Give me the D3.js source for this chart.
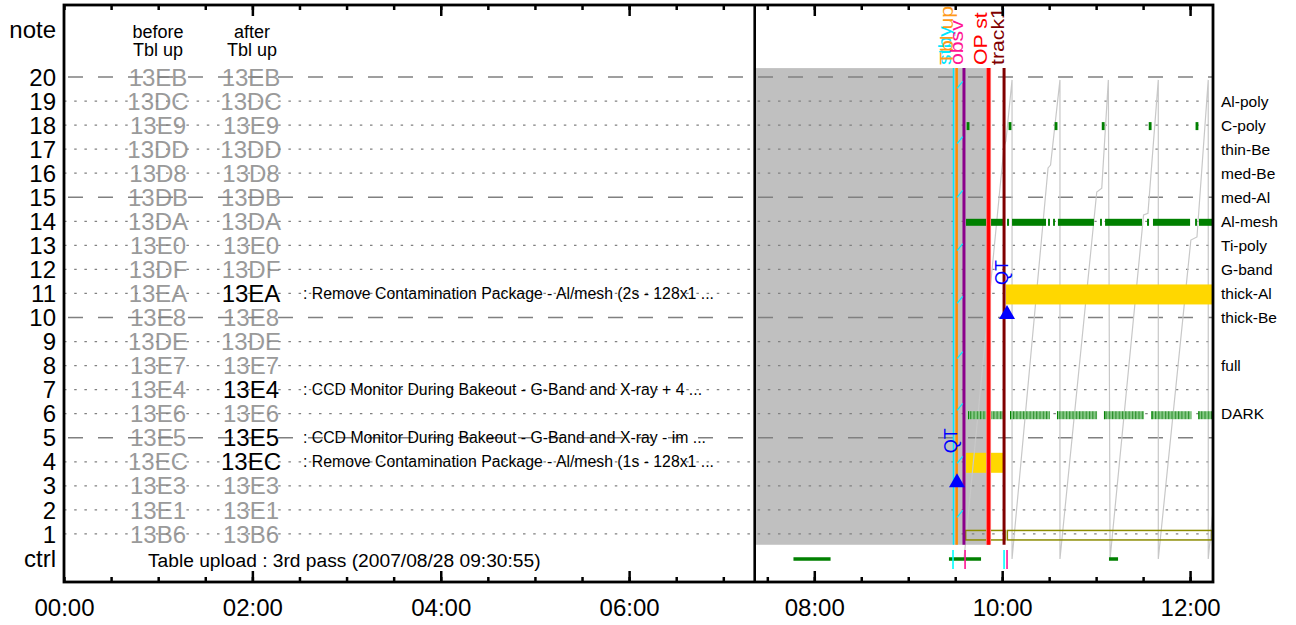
<!DOCTYPE html>
<html>
<head>
<meta charset="utf-8">
<script src="https://cdnjs.cloudflare.com/ajax/libs/d3/7.8.5/d3.min.js"></script>
<style>
  body { margin: 0; background: #fff; }
  svg { display: block; }
  text { font-family: "Liberation Sans", Arial, Helvetica, sans-serif; }
</style>
</head>
<body>
<div id="chart"></div>
<script>
// ---- data -------------------------------------------------------------
const rowTicks = [1, 2, 3, 4, 5, 6, 7, 8, 9, 10, 11, 12, 13, 14, 15, 16, 17, 18, 19, 20];
const dashedRows = [5, 10, 15, 20];

// table codes, row 1 .. row 20
const codesBefore = ["13B6", "13E1", "13E3", "13EC", "13E5", "13E6", "13E4", "13E7", "13DE", "13E8",
                     "13EA", "13DF", "13E0", "13DA", "13DB", "13D8", "13DD", "13E9", "13DC", "13EB"];
const codesAfter  = ["13B6", "13E1", "13E3", "13EC", "13E5", "13E6", "13E4", "13E7", "13DE", "13E8",
                     "13EA", "13DF", "13E0", "13DA", "13DB", "13D8", "13DD", "13E9", "13DC", "13EB"];
const updatedRows = [4, 5, 7, 11];

const descRows = [11, 7, 5, 4];
const descTexts = [
  ": Remove Contamination Package - Al/mesh (2s - 128x1 ...",
  ": CCD Monitor During Bakeout - G-Band and X-ray + 4  ...",
  ": CCD Monitor During Bakeout - G-Band and X-ray - im ...",
  ": Remove Contamination Package - Al/mesh (1s - 128x1 ..."
];
const uploadTitle = "Table upload : 3rd pass (2007/08/28 09:30:55)";

const filterRows  = [19, 18, 17, 16, 15, 14, 13, 12, 11, 10, 8, 6];
const filterNames = ["Al-poly", "C-poly", "thin-Be", "med-Be", "med-Al", "Al-mesh",
                     "Ti-poly", "G-band", "thick-Al", "thick-Be", "full", "DARK"];

// timeline events (vertical lines)
const eventNames = ["stby", "Tbl up", "obsv", "OP st", "track1"];
const eventTimes = ["09:28:54", "09:30:55", "09:35:36", "09:51:18", "10:01:12"];

const busyPeriod = ["07:21:30", "09:51:18"];          // grey block

const thickAlBar = ["10:02:24", "12:14:00"];          // row 11
const row4Bar    = ["09:36:54", "10:01:48"];          // row 4

const alMeshRuns = [
  ["09:36:54", "10:01:12"], ["10:03:06", "10:04:24"], ["10:06:18", "10:28:00"],
  ["10:29:18", "10:30:30"], ["10:32:30", "10:33:42"], ["10:35:36", "10:58:36"],
  ["11:02:30", "11:03:42"], ["11:05:42", "11:29:18"], ["11:32:30", "11:33:48"],
  ["11:36:18", "12:00:00"], ["12:03:12", "12:04:24"], ["12:05:42", "12:14:00"]
];
const cPolyRuns = [
  ["09:37:18", "09:39:06"], ["10:04:06", "10:05:54"], ["10:33:30", "10:35:18"],
  ["11:03:36", "11:05:24"], ["11:33:36", "11:35:24"], ["12:03:30", "12:05:18"]
];
const darkRuns = [
  ["09:38:12", "10:00:30"], ["10:05:00", "10:30:30"], ["10:35:00", "11:00:36"],
  ["11:05:00", "11:30:36"], ["11:35:18", "12:00:54"], ["12:05:18", "12:14:00"]
];
const row1Boxes = [["09:36:42", "10:01:48"], ["10:03:18", "12:14:00"]];

// light grey trace: [time, row]
const traceTimes = ["09:35:36", "10:01:12", "10:02:24", "10:06:18",
                    "10:06:18", "10:29:18", "10:30:54", "10:36:54",
                    "10:36:54", "11:00:24", "11:03:36", "11:07:48",
                    "11:08:54", "11:30:18", "11:33:06", "11:39:42",
                    "11:39:42", "12:00:30", "12:04:24", "12:11:36",
                    "12:11:36", "12:16:30"];
const traceRows  = [-0.04, 17.13, 17.34, 19.88,
                    -0.04, 16.22, 16.34, 19.88,
                    -0.04, 15.22, 15.38, 19.88,
                    -0.04, 14.26, 14.33, 19.88,
                    -0.04, 13.22, 13.35, 19.88,
                    -0.04, 3.24];

const cyanSlashRows = [19.67, 17.38, 15.14, 12.93, 10.73, 8.44, 6.28, 4.08, 1.83];
const cyanSlashSpan = ["09:31:10", "09:34:50"];

const qtTimes = ["09:31:08", "10:03:05"];
const qtRows  = [3, 10];

const ctrlRuns = [["07:46:42", "08:10:24"], ["09:26:00", "09:46:30"], ["11:08:12", "11:14:00"]];
const ctrlTickTimes = ["09:28:36", "09:36:18", "10:01:12", "10:03:06"];
const ctrlTickKinds = ["cmd", "obs", "cmd", "obs"];

// ---- styles -----------------------------------------------------------
const eventStyle = {
  "stby":   { line: "#00e8ff", text: "#00e8ff", w: 1.5, shift: 2.5 },
  "Tbl up": { line: "#ff8c00", text: "#ff9a1a", w: 2.5, shift: 3.5 },
  "obsv":   { line: "#8b008b", text: "#ff1493", w: 3,   shift: 1 },
  "OP st":  { line: "#ff0000", text: "#ff0000", w: 3,   shift: 1.5 },
  "track1": { line: "#800000", text: "#800000", w: 3,   shift: 0.5 }
};
const tickColor = { cmd: "#00ffff", obs: "#ff1493" };

// ---- scales -----------------------------------------------------------
const width = 1296, height = 625;
const frame = { left: 64, right: 1213, top: 5, bottom: 582, split: 754.7 };

const parse = d3.timeParse("%H:%M:%S");
const T = s => parse(s.length === 5 ? s + ":00" : s);

const xLeft  = d3.scaleTime().domain([T("00:00"), T("07:20")]).range([frame.left, frame.split]);
const xRight = d3.scaleTime().domain([T("07:21:30"), T("12:14:00")]).range([754, 1212]);
const y = d3.scaleLinear().domain([0, 20]).range([558, 77]);

const svg = d3.select("#chart").append("svg")
  .attr("width", width)
  .attr("height", height);

const defs = svg.append("defs");
defs.append("clipPath").attr("id", "rightClip")
  .append("rect")
  .attr("x", frame.split).attr("y", frame.top)
  .attr("width", frame.right - frame.split).attr("height", frame.bottom - frame.top);

const hatch = defs.append("pattern")
  .attr("id", "darkHatch")
  .attr("patternUnits", "userSpaceOnUse")
  .attr("width", 3.3).attr("height", 10);
hatch.append("rect").attr("width", 3.3).attr("height", 10).attr("fill", "#86c886");
hatch.append("rect").attr("width", 1.1).attr("height", 10).attr("fill", "#2a8f2a");

// ---- left panel: faded table codes (below grid) ------------------------
const colBefore = 158, colAfter = 251;
const leftBack = svg.append("g").style("font-size", "24px").attr("fill", "#9a9a9a")
  .attr("text-anchor", "middle");

leftBack.selectAll("text.before")
  .data(codesBefore)
  .join("text")
  .attr("class", "before")
  .attr("x", colBefore)
  .attr("y", (d, i) => y(rowTicks[i]))
  .attr("dy", "0.36em")
  .text(d => d);

leftBack.selectAll("text.after")
  .data(codesAfter.map((c, i) => ({ c, row: rowTicks[i] })).filter(d => !updatedRows.includes(d.row)))
  .join("text")
  .attr("class", "after")
  .attr("x", colAfter)
  .attr("y", d => y(d.row))
  .attr("dy", "0.36em")
  .text(d => d.c);

// ---- right panel (clipped) --------------------------------------------
const right = svg.append("g").attr("clip-path", "url(#rightClip)");

const eventSpan = [0.55, 20.37];

right.append("rect")
  .attr("x", xRight(T(busyPeriod[0])) - 2)
  .attr("width", xRight(T(busyPeriod[1])) - xRight(T(busyPeriod[0])) + 2)
  .attr("y", y(eventSpan[1]))
  .attr("height", y(eventSpan[0]) - y(eventSpan[1]))
  .attr("fill", "#c0c0c0");

// ---- grid -------------------------------------------------------------
svg.append("g")
  .selectAll("line")
  .data(rowTicks)
  .join("line")
  .attr("x1", frame.left).attr("x2", frame.right)
  .attr("y1", d => y(d)).attr("y2", d => y(d))
  .attr("stroke", "#808080")
  .attr("stroke-width", d => dashedRows.includes(d) ? 1.5 : 1.2)
  .attr("stroke-dasharray", d => dashedRows.includes(d) ? "15,15" : "2.5,7.7")
  .attr("stroke-dashoffset", d => dashedRows.includes(d) ? -4 : 0);

const right2 = svg.append("g").attr("clip-path", "url(#rightClip)");

function bar(g, run, row, h, fill, dy = 0) {
  const x0 = xRight(T(run[0])), x1 = xRight(T(run[1]));
  g.append("rect")
    .attr("x", x0).attr("width", Math.max(1, x1 - x0))
    .attr("y", y(row) - h / 2 + dy).attr("height", h)
    .attr("fill", fill);
}

bar(right2, row4Bar, 4, 20, "#ffd700", 1);

// light grey trace
const tracePts = traceTimes.map((t, i) => [xRight(T(t)), y(traceRows[i])]);
right2.append("path")
  .attr("d", d3.line()(tracePts))
  .attr("fill", "none")
  .attr("stroke", "#c8c8c8")
  .attr("stroke-width", 1.2);

bar(right2, thickAlBar, 11, 20, "#ffd700", 1);

alMeshRuns.forEach(r => bar(right2, r, 14, 7, "#008000", 1));
cPolyRuns.forEach(r => bar(right2, r, 18, 8, "#008000", 1));
darkRuns.forEach(r => {
  bar(right2, r, 6, 8, "url(#darkHatch)", 1.5);
  bar(right2, [r[0], r[0]], 6, 8, "#008000", 1.5);
});

row1Boxes.forEach(r => {
  const x0 = xRight(T(r[0])), x1 = xRight(T(r[1]));
  right2.append("rect")
    .attr("x", x0).attr("width", x1 - x0)
    .attr("y", y(1) - 3.5).attr("height", 9.5)
    .attr("fill", "none")
    .attr("stroke", "#8b8b00")
    .attr("stroke-width", 1.5);
});

// vertical event lines
const evData = eventNames.map((n, i) => ({ name: n, t: T(eventTimes[i]), s: eventStyle[n] }));
right2.selectAll("line.halo")
  .data(evData.filter(d => d.name === "OP st"))
  .join("line")
  .attr("class", "halo")
  .attr("x1", d => xRight(d.t)).attr("x2", d => xRight(d.t))
  .attr("y1", y(eventSpan[0])).attr("y2", y(eventSpan[1]))
  .attr("stroke", "#ff7070").attr("stroke-width", 5);
right2.selectAll("line.event")
  .data(evData)
  .join("line")
  .attr("class", "event")
  .attr("x1", d => xRight(d.t)).attr("x2", d => xRight(d.t))
  .attr("y1", y(eventSpan[0])).attr("y2", y(eventSpan[1]))
  .attr("stroke", d => d.s.line)
  .attr("stroke-width", d => d.s.w);

// small cyan slashes between Tbl up and obsv
right2.selectAll("line.slash")
  .data(cyanSlashRows)
  .join("line")
  .attr("class", "slash")
  .attr("x1", xRight(T(cyanSlashSpan[0]))).attr("x2", xRight(T(cyanSlashSpan[1])))
  .attr("y1", d => y(d) + 3.5).attr("y2", d => y(d) - 3.5)
  .attr("stroke", "#00e8ff").attr("stroke-width", 1.2);

// QT markers
qtTimes.forEach((t, i) => {
  const cx = xRight(T(t)), base = y(qtRows[i]) + 1.5;
  right2.append("path")
    .attr("d", `M${cx - 8},${base} L${cx + 8},${base} L${cx},${base - 14} Z`)
    .attr("fill", "#0000ff");
  svg.append("text")
    .attr("transform", `translate(${cx + 0.5},${base - 34}) rotate(-90)`)
    .attr("fill", "#0000ff")
    .style("font-size", "18px")
    .text("QT");
});

// ctrl row
ctrlRuns.forEach(r => bar(right2, r, 0, 3.5, "#008000", 1));
right2.selectAll("line.ctrl")
  .data(ctrlTickTimes.map((t, i) => ({ t: T(t), k: ctrlTickKinds[i] })))
  .join("line")
  .attr("class", "ctrl")
  .attr("x1", d => xRight(d.t)).attr("x2", d => xRight(d.t))
  .attr("y1", y(0) - 8).attr("y2", y(0) + 11)
  .attr("stroke", d => tickColor[d.k])
  .attr("stroke-width", 1.6);

// event labels above the grey block
svg.append("g")
  .selectAll("text")
  .data(evData)
  .join("text")
  .attr("transform", d => `translate(${xRight(d.t) - d.s.shift},65) rotate(-90) scale(1.18,1)`)
  .attr("fill", d => d.s.text)
  .style("font-size", "18px")
  .text(d => d.name);

// ---- left panel foreground ---------------------------------------------
const leftFront = svg.append("g");

leftFront.selectAll("text.upd")
  .data(codesAfter.map((c, i) => ({ c, row: rowTicks[i] })).filter(d => updatedRows.includes(d.row)))
  .join("text")
  .attr("class", "upd")
  .attr("x", colAfter)
  .attr("y", d => y(d.row))
  .attr("dy", "0.36em")
  .attr("text-anchor", "middle")
  .style("font-size", "24px")
  .attr("fill", "#000")
  .text(d => d.c);

leftFront.selectAll("text.desc")
  .data(descTexts)
  .join("text")
  .attr("class", "desc")
  .attr("x", 303)
  .attr("y", (d, i) => y(descRows[i]))
  .attr("dy", "0.36em")
  .style("font-size", "15.8px")
  .attr("fill", "#000")
  .text(d => d);

[["before", "Tbl up", colBefore], ["after", "Tbl up", colAfter + 1]].forEach(h => {
  const t = leftFront.append("text")
    .attr("text-anchor", "middle")
    .style("font-size", "18px");
  t.append("tspan").attr("x", h[2]).attr("y", 37.5).text(h[0]);
  t.append("tspan").attr("x", h[2]).attr("y", 55.5).text(h[1]);
});

leftFront.append("text")
  .attr("x", 148)
  .attr("y", y(0) + 2)
  .attr("dy", "0.36em")
  .style("font-size", "19.2px")
  .text(uploadTitle);

// ---- y labels -----------------------------------------------------------
const yLab = svg.append("g").attr("text-anchor", "end").style("font-size", "24px");
yLab.selectAll("text.num")
  .data(rowTicks)
  .join("text")
  .attr("class", "num")
  .attr("x", 56)
  .attr("y", d => y(d))
  .attr("dy", "0.36em")
  .text(d => d);
yLab.append("text").attr("x", 56).attr("y", y(0)).attr("dy", "0.36em").text("ctrl");
yLab.append("text").attr("x", 56).attr("y", y(22)).attr("dy", "0.36em").text("note");

// filter names on the right
svg.append("g")
  .selectAll("text")
  .data(filterNames)
  .join("text")
  .attr("x", 1221)
  .attr("y", (d, i) => y(filterRows[i]))
  .attr("dy", "0.36em")
  .style("font-size", "15.5px")
  .text(d => d);

// ---- axes -------------------------------------------------------------
function drawAxes(scale, majorEvery, minorEvery) {
  const major = scale.ticks(d3.timeHour.every(majorEvery)).filter(d => +d !== +T("00:00"));
  const minor = scale.ticks(d3.timeMinute.every(minorEvery));

  const gb = svg.append("g").attr("transform", `translate(0,${frame.bottom})`);
  gb.call(d3.axisBottom(scale).tickValues(minor).tickSizeInner(-5).tickSizeOuter(0).tickFormat(""));
  gb.call(g => g.select(".domain").remove());
  const gbm = svg.append("g").attr("transform", `translate(0,${frame.bottom})`);
  gbm.call(d3.axisBottom(scale).tickValues(scale.ticks(d3.timeHour.every(majorEvery)))
    .tickSizeInner(-11).tickSizeOuter(0).tickPadding(17)
    .tickFormat(d3.timeFormat("%H:%M")));
  gbm.call(g => g.select(".domain").remove());
  gbm.selectAll(".tick line").filter(d => +d === +T("00:00")).remove();
  gbm.selectAll(".tick text").style("font-size", "24px").attr("fill", "#000");

  const gt = svg.append("g").attr("transform", `translate(0,${frame.top})`);
  gt.call(d3.axisTop(scale).tickValues(minor).tickSizeInner(-5).tickSizeOuter(0).tickFormat(""));
  gt.call(g => g.select(".domain").remove());
  const gtm = svg.append("g").attr("transform", `translate(0,${frame.top})`);
  gtm.call(d3.axisTop(scale).tickValues(major).tickSizeInner(-11).tickSizeOuter(0).tickFormat(""));
  gtm.call(g => g.select(".domain").remove());

  svg.selectAll(".tick line").attr("stroke", "#000").attr("stroke-width", 2.5);
}
drawAxes(xLeft, 2, 30);
drawAxes(xRight, 2, 30);
svg.selectAll("g[font-family]").attr("font-family", null);

// ---- frame ------------------------------------------------------------
svg.append("rect")
  .attr("x", frame.left).attr("y", frame.top)
  .attr("width", frame.right - frame.left).attr("height", frame.bottom - frame.top)
  .attr("fill", "none").attr("stroke", "#000").attr("stroke-width", 2.8);
svg.append("line")
  .attr("x1", frame.split).attr("x2", frame.split)
  .attr("y1", frame.top).attr("y2", frame.bottom)
  .attr("stroke", "#000").attr("stroke-width", 2.6);
</script>
</body>
</html>
